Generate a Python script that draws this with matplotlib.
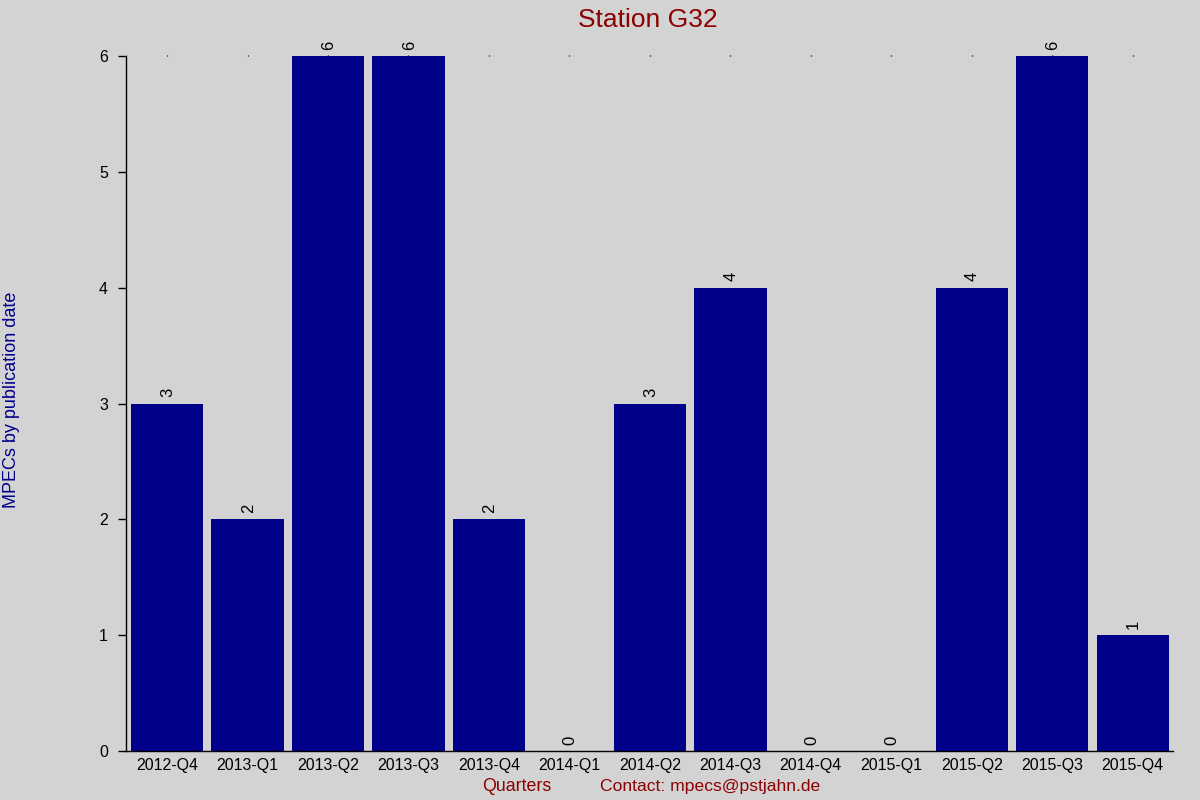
import matplotlib
matplotlib.use('Agg')
import matplotlib.pyplot as plt
import numpy as np

plt.rcParams['font.family'] = ['Liberation Sans', 'DejaVu Sans']

quarters = ['2012-Q4', '2013-Q1', '2013-Q2', '2013-Q3', '2013-Q4', '2014-Q1', '2014-Q2',
            '2014-Q3', '2014-Q4', '2015-Q1', '2015-Q2', '2015-Q3', '2015-Q4']
mpecs = [3, 2, 6, 6, 2, 0, 3, 4, 0, 0, 4, 6, 1]

bg = '#d3d3d3'
fig = plt.figure(figsize=(12, 8), dpi=100, facecolor=bg)
ax = fig.add_axes([0.105, 0.06125, 0.8725, 0.86875], facecolor=bg)

x = np.arange(len(quarters))
bars = ax.bar(x, mpecs, width=0.9, color='#00008b')
for xi, v in zip(x, mpecs):
    ax.annotate(str(v), (xi, v), xytext=(0.5, 4.5), textcoords='offset points',
                rotation=90, ha='center', va='bottom', fontsize=12, color='black')

ax.set_xlim(-0.51, 12.5)
ax.set_ylim(0, 6)
ax.set_xticks(x)
ax.set_xticklabels(quarters, fontsize=11.5)
ax.set_yticks(range(7))
ax.tick_params(axis='y', labelsize=11.5, length=6, width=1, pad=7, direction='out')
ax.tick_params(axis='x', bottom=False, top=True, length=1, width=1, pad=4, direction='out',
               labeltop=False)
for s in ['top', 'right']:
    ax.spines[s].set_visible(False)
ax.spines['left'].set_linewidth(1)
ax.spines['bottom'].set_linewidth(1)

fig.text(0.54, 0.975, 'Station G32', color='#8b0000', fontsize=19, ha='center', va='center')
fig.text(0.0095, 0.5, 'MPECs by publication date', color='#00008b', fontsize=13,
         rotation=90, ha='center', va='center')
fig.text(0.431, 0.011, 'Quarters', color='#8b0000', fontsize=12.8, ha='center', va='baseline')
fig.text(0.592, 0.011, 'Contact: mpecs@pstjahn.de', color='#8b0000', fontsize=12.6,
         ha='center', va='baseline')

fig.savefig('out.png', dpi=100, facecolor=bg)
